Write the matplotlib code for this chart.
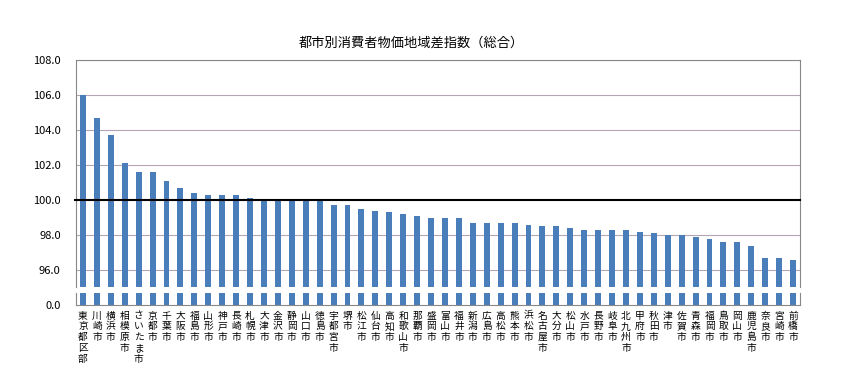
import numpy as np
import matplotlib
matplotlib.use("Agg")
import matplotlib.pyplot as plt

plt.rcParams['font.family'] = ['Noto Sans CJK JP', 'DejaVu Sans']

cities = ["東京都区部", "川崎市", "横浜市", "相模原市", "さいたま市", "京都市", "千葉市", "大阪市",
          "福島市", "山形市", "神戸市", "長崎市", "札幌市", "大津市", "金沢市", "静岡市",
          "山口市", "徳島市", "宇都宮市", "堺市", "松江市", "仙台市", "高知市", "和歌山市",
          "那覇市", "盛岡市", "富山市", "福井市", "新潟市", "広島市", "高松市", "熊本市",
          "浜松市", "名古屋市", "大分市", "松山市", "水戸市", "長野市", "岐阜市", "北九州市",
          "甲府市", "秋田市", "津市", "佐賀市", "青森市", "福岡市", "鳥取市", "岡山市",
          "鹿児島市", "奈良市", "宮崎市", "前橋市"]
index = [106.0, 104.7, 103.7, 102.1, 101.6, 101.6, 101.1, 100.7,
         100.4, 100.3, 100.3, 100.3, 100.1, 100.0, 100.0, 100.0,
         100.0, 100.0, 99.7, 99.7, 99.5, 99.4, 99.3, 99.2,
         99.1, 99.0, 99.0, 99.0, 98.7, 98.7, 98.7, 98.7,
         98.6, 98.5, 98.5, 98.4, 98.3, 98.3, 98.3, 98.3,
         98.2, 98.1, 98.0, 98.0, 97.9, 97.8, 97.6, 97.6,
         97.4, 96.7, 96.7, 96.6]
upper_ticks = [96.0, 98.0, 100.0, 102.0, 104.0, 106.0, 108.0]

W, H = 852, 380
fig = plt.figure(figsize=(W / 100, H / 100), dpi=100)
left, right = 76 / W, 800 / W
ax = fig.add_axes([left, 1 - 287 / H, right - left, (287 - 60) / H])
axb = fig.add_axes([left, 1 - 305 / H, right - left, (305 - 293) / H])

x = np.arange(len(cities))
bar_color = "#4a7ebb"
frame = "#888888"
for a in (ax, axb):
    a.bar(x, index, width=0.43, color=bar_color, zorder=2)
    a.set_xlim(-0.5, len(cities) - 0.5)
    a.tick_params(length=0, labelsize=8, colors="black")
    for s in a.spines.values():
        s.set_color(frame)
        s.set_linewidth(0.8)

ax.set_ylim(95.03, 108)
ax.set_yticks(upper_ticks)
ax.set_yticklabels([f"{v:.1f}" for v in upper_ticks])
ax.tick_params(axis="y", pad=11)
ax.set_xticks([])
ax.spines["bottom"].set_visible(False)
for v in upper_ticks:
    if v != 100.0:
        ax.axhline(v, color="#b4a4b4", lw=0.8, zorder=1)
ax.axhline(100.0, color="black", lw=1.5, zorder=3, clip_on=False,
           xmin=-0.002)

axb.set_ylim(0, 0.7)
axb.set_yticks([0.0])
axb.set_yticklabels(["0.0"])
axb.tick_params(axis="y", pad=11)
axb.spines["top"].set_visible(False)
axb.set_xticks(x)
axb.set_xticklabels(["\n".join(c) for c in cities], fontsize=7,
                    linespacing=1.1, va="top")
axb.tick_params(axis="x", pad=4)

fig.text(411 / W, 1 - 43 / H, "都市別消費者物価地域差指数（総合）",
         ha="center", va="center", fontsize=9.5)

fig.savefig("out.png", dpi=100)
